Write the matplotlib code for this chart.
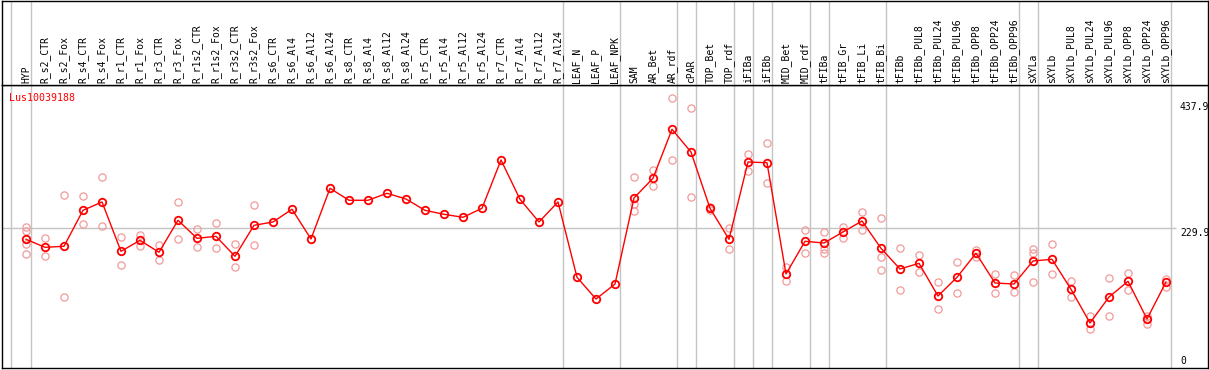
import matplotlib
matplotlib.use("Agg")
import matplotlib.pyplot as plt

labels = ["HYP", "R_s2_CTR", "R_s2_Fox", "R_s4_CTR", "R_s4_Fox", "R_r1_CTR", "R_r1_Fox",
          "R_r3_CTR", "R_r3_Fox", "R_r1s2_CTR", "R_r1s2_Fox", "R_r3s2_CTR", "R_r3s2_Fox",
          "R_s6_CTR", "R_s6_Al4", "R_s6_Al12", "R_s6_Al24", "R_s8_CTR", "R_s8_Al4",
          "R_s8_Al12", "R_s8_Al24", "R_r5_CTR", "R_r5_Al4", "R_r5_Al12", "R_r5_Al24",
          "R_r7_CTR", "R_r7_Al4", "R_r7_Al12", "R_r7_Al24", "LEAF_N", "LEAF_P", "LEAF_NPK",
          "SAM", "AR_Bet", "AR_rdf", "cPAR", "TOP_Bet", "TOP_rdf", "iFIBa", "iFIBb",
          "MID_Bet", "MID_rdf", "tFIBa", "tFIB_Gr", "tFIB_Li", "tFIB_Bi", "tFIBb",
          "tFIBb_PUL8", "tFIBb_PUL24", "tFIBb_PUL96", "tFIBb_OPP8", "tFIBb_OPP24",
          "tFIBb_OPP96", "sXYLa", "sXYLb", "sXYLb_PUL8", "sXYLb_PUL24", "sXYLb_PUL96",
          "sXYLb_OPP8", "sXYLb_OPP24", "sXYLb_OPP96"]

means = [211.8, 198.6, 200.3, 259.5, 273.2, 192.0, 210.1, 190.4, 243.1, 213.4, 216.7,
         183.8, 234.8, 240.3, 261.2, 212.3, 295.7, 276.0, 276.0, 287.5, 278.1, 259.5,
         252.9, 248.0, 262.8, 342.3, 277.6, 240.3, 273.2, 149.3, 113.5, 138.2, 279.8,
         312.2, 392.8, 355.4, 262.8, 211.8, 339.0, 337.8, 154.7, 208.5, 205.7, 223.8,
         241.9, 197.0, 162.9, 172.3, 118.5, 149.3, 188.8, 139.9, 138.2, 176.1, 178.9,
         129.5, 74.1, 116.8, 142.7, 80.6, 141.5]

replicates = [
    [231.5, 225.5, 204.5, 187.1], [213.9, 183.8], [284.7, 116.3], [283.0, 236.5],
    [314.3, 233.2], [215.6, 169.0], [218.9, 200.3], [201.9, 178.2], [273.2, 211.8],
    [228.7, 198.6], [238.6, 197.0], [203.6, 166.2], [267.7, 201.9],
    [], [], [], [], [], [], [], [], [], [], [], [], [], [], [], [], [], [], [],
    [313.8, 269.4, 258.4], [325.3, 300.0], [443.8, 341.8], [427.4, 280.9],
    [264.9, 260.8], [229.9, 195.3], [352.2, 324.2], [370.3, 303.9], [165.7, 142.7],
    [226.6, 188.8], [224.3, 195.3, 189.7], [231.5, 213.4], [256.2, 226.6],
    [246.3, 183.2, 160.8], [197.0, 127.9], [185.5, 157.5], [141.0, 96.6],
    [174.9, 122.9], [194.2, 183.2], [154.7, 122.9], [152.5, 124.6],
    [195.3, 189.7, 141.0], [204.1, 154.7], [143.2, 116.3], [85.6, 63.7],
    [147.6, 85.1], [156.3, 127.9], [86.1, 72.9], [147.0, 133.3]]

separators = [-0.8, 0.25, 28.25, 31.25, 34.25, 35.25, 37.25, 38.25, 39.25, 41.25,
              42.25, 45.25, 52.25, 53.25, 60.25]
gene = "Lus10039188"
y_ticks = [437.9, 229.9, 0]
grid_value = 229.9

W, H = 1209, 370
fig = plt.figure(figsize=(W / 100, H / 100), dpi=100)
fig.patch.set_facecolor("white")

xlim = ((2 - 26) / 19, (1208 - 26) / 19)
ax = fig.add_axes([2 / W, 2 / H, 1206 / W, 283 / H])
hdr = fig.add_axes([2 / W, 285 / H, 1206 / W, 84.5 / H])
ax.set_xlim(*xlim)
ax.set_ylim(0, 283 / 0.6077)
hdr.set_xlim(*xlim)
hdr.set_ylim(0, 1)
for a in (ax, hdr):
    a.set_xticks([])
    a.set_yticks([])
    for s in a.spines.values():
        s.set_color("black")
        s.set_linewidth(1.0)

mono = "DejaVu Sans Mono"
gray = "#c4c4c4"

for s in separators:
    ax.axvline(s, color=gray, lw=1.0, zorder=1)
    hdr.axvline(s, color=gray, lw=1.0, zorder=1)

ax.hlines(grid_value, xlim[0], (1176 - 26) / 19, color=gray, lw=1.0, zorder=1)

xs = list(range(len(labels)))
for i, reps in enumerate(replicates):
    if reps:
        ax.plot([i] * len(reps), reps, linestyle="none", marker="o", markersize=5.2,
                markerfacecolor="none", markeredgecolor="#f29a9a", markeredgewidth=0.9,
                zorder=2)

ax.plot(xs, means, color="#ff0000", lw=1.0, zorder=3)
ax.plot(xs, means, linestyle="none", marker="o", markersize=5.4,
        markerfacecolor="none", markeredgecolor="#ff0000", markeredgewidth=1.3, zorder=4)

for i, lab in enumerate(labels):
    hdr.text(i, 2 / 84.5, lab, rotation=90, ha="center", va="bottom",
             fontsize=7, family=mono, color="black")

ax.text((9 - 26) / 19, 1 - 8 / 283, gene, transform=ax.get_xaxis_transform(),
        ha="left", va="top", fontsize=7.2, family=mono, color="#ff0000")

lx = (1180 - 26) / 19
for v in y_ticks:
    if v == 0:
        ax.text(lx, v + 3, "0", ha="left", va="bottom", fontsize=7, family=mono,
                color="black", clip_on=True)
    else:
        ax.text(lx, v, f"{v}", ha="left", va="top", fontsize=7, family=mono,
                color="black", clip_on=True)

fig.savefig("out.png", dpi=100)
